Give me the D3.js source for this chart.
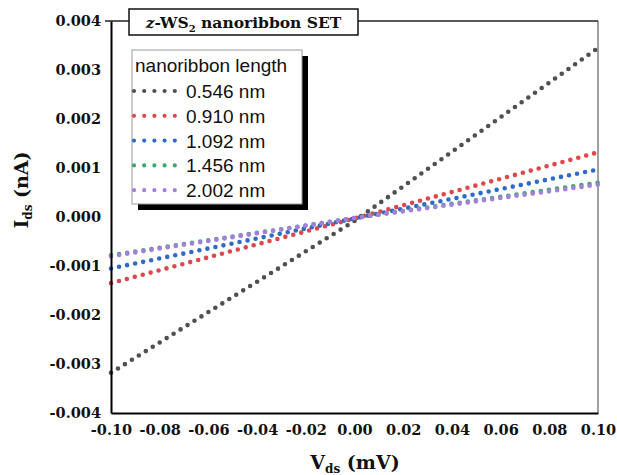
<!DOCTYPE html>
<html><head><meta charset="utf-8">
<script src="https://cdn.jsdelivr.net/npm/d3@7"></script>
<style>body{margin:0;background:#fff}svg{display:block}</style>
</head><body>
<svg id="c" width="617" height="475"></svg>
<script>
const vds = [-0.10, 0.00, 0.10];
const lengths = ["0.546 nm", "0.910 nm", "1.092 nm", "1.456 nm", "2.002 nm"];
const i546 = [-0.00318, -0.00008, 0.00345];
const i910 = [-0.00135, -0.00003, 0.00132];
const i1092 = [-0.00105, -0.00003, 0.00097];
const i1456 = [-0.00078, -0.00002, 0.00070];
const i2002 = [-0.00080, -0.00002, 0.00066];
const seriesValues = [i546, i910, i1092, i1456, i2002];
const colors = ["#505050", "#e0474c", "#2e6cc8", "#3aa86b", "#a67fdc"];
const xTicks = [-0.10, -0.08, -0.06, -0.04, -0.02, 0.00, 0.02, 0.04, 0.06, 0.08, 0.10];
const yTicks = [-0.004, -0.003, -0.002, -0.001, 0.000, 0.001, 0.002, 0.003, 0.004];

const svg = d3.select("#c");
const L = 111, R = 598, T = 21, B = 413;
const x = d3.scaleLinear().domain([-0.1, 0.1]).range([L, R]);
const y = d3.scaleLinear().domain([-0.004, 0.004]).range([B, T]);

// frame: right & top
svg.append("line").attr("x1", R).attr("x2", R).attr("y1", T).attr("y2", B).attr("stroke", "#808080").attr("stroke-width", 1.5);
svg.append("line").attr("x1", L - 6).attr("x2", R).attr("y1", T).attr("y2", T).attr("stroke", "#222").attr("stroke-width", 1.3);

// series
const line = d3.line().x((d, i) => x(vds[i])).y(d => y(d));
[0, 1, 2, 3, 4].forEach(k => {
  svg.append("path").datum(seriesValues[k]).attr("d", line)
    .attr("fill", "none").attr("stroke", colors[k]).attr("stroke-width", 4.6)
    .attr("stroke-linecap", "round").attr("stroke-dasharray", "0 8.2");
});

// axes
const yAxis = d3.axisLeft(y).tickValues(yTicks).tickSize(0).tickPadding(10);
const gy = svg.append("g").attr("transform", `translate(${L},0)`).call(yAxis);
gy.select(".domain").attr("stroke", "#000").attr("stroke-width", 2);
gy.selectAll("text").attr("font-family", "DejaVu Serif").attr("font-weight", "bold").attr("font-size", 14.5).attr("fill", "#111")
  .text(d => d3.format(".3f")(d).replace("−", "-"));

const xAxis = d3.axisBottom(x).tickValues(xTicks).tickSize(0).tickPadding(12);
const gx = svg.append("g").attr("transform", `translate(0,${B})`).call(xAxis);
gx.select(".domain").attr("stroke", "#000").attr("stroke-width", 2);
gx.selectAll("text").attr("font-family", "DejaVu Serif").attr("font-weight", "bold").attr("font-size", 14.5).attr("fill", "#111")
  .text(d => d3.format(".2f")(d).replace("−", "-"));

// axis titles
const xt = svg.append("text").attr("x", 355).attr("y", 469).attr("text-anchor", "middle")
  .attr("font-family", "DejaVu Serif").attr("font-weight", "bold").attr("font-size", 19).attr("fill", "#111");
xt.append("tspan").text("V");
xt.append("tspan").attr("font-size", 12).attr("dy", 4).text("ds");
xt.append("tspan").attr("dy", -4).text(" (mV)");

const yt = svg.append("text").attr("transform", "translate(28,190) rotate(-90)").attr("text-anchor", "middle")
  .attr("font-family", "DejaVu Serif").attr("font-weight", "bold").attr("font-size", 19).attr("fill", "#111");
yt.append("tspan").text("I");
yt.append("tspan").attr("font-size", 12).attr("dy", 4).text("ds");
yt.append("tspan").attr("dy", -4).text(" (nA)");

// title box
svg.append("rect").attr("x", 129).attr("y", 9).attr("width", 229).attr("height", 26)
  .attr("fill", "#fff").attr("stroke", "#111").attr("stroke-width", 1.5);
const tt = svg.append("text").attr("x", 243.5).attr("y", 28).attr("text-anchor", "middle")
  .attr("font-family", "DejaVu Serif").attr("font-weight", "bold").attr("font-size", 15.5).attr("fill", "#111");
tt.append("tspan").attr("font-style", "italic").text("z");
tt.append("tspan").text("-WS");
tt.append("tspan").attr("font-size", 10).attr("dy", 4).text("2");
tt.append("tspan").attr("dy", -4).text(" nanoribbon SET");

// legend
const lx = 132, ly = 50, lw = 170, lh = 154;
svg.append("rect").attr("x", lx + 6).attr("y", ly + 6).attr("width", lw).attr("height", lh).attr("fill", "#000");
svg.append("rect").attr("x", lx).attr("y", ly).attr("width", lw).attr("height", lh)
  .attr("fill", "#fff").attr("stroke", "#999").attr("stroke-width", 1);
svg.append("text").attr("x", lx + 3).attr("y", ly + 22).attr("font-family", "Liberation Sans").attr("font-size", 19).attr("fill", "#111")
  .text("nanoribbon length");
lengths.forEach((lab, k) => {
  const cy = ly + 41 + k * 24.8;
  svg.append("line").attr("x1", lx + 2).attr("x2", lx + 44).attr("y1", cy).attr("y2", cy)
    .attr("stroke", colors[k]).attr("stroke-width", 4.2).attr("stroke-linecap", "round").attr("stroke-dasharray", "0 10.2");
  svg.append("text").attr("x", lx + 54).attr("y", cy + 7).attr("font-family", "Liberation Sans").attr("font-size", 19).attr("fill", "#111")
    .text(lab);
});
</script>
</body></html>
